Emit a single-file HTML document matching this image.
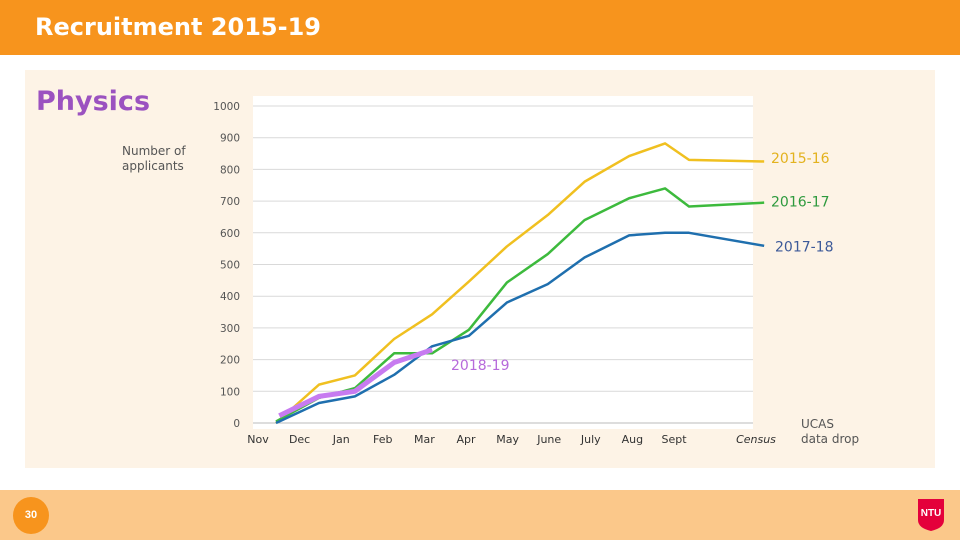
<!DOCTYPE html>
<html><head><meta charset="utf-8"><style>
body{margin:0;width:960px;height:540px;overflow:hidden;background:#fff;font-family:"Liberation Sans","DejaVu Sans",sans-serif;position:relative}
.abs{position:absolute}
</style></head><body>
<div class="abs" style="left:0;top:0;width:960px;height:55px;background:#F7941D"></div>
<div class="abs" style="left:35px;top:13px;color:#fff;font-weight:bold;font-size:24px;font-family:'DejaVu Sans',sans-serif">Recruitment 2015-19</div>
<div class="abs" style="left:25px;top:70px;width:910px;height:398px;background:#FDF3E6"></div>
<div class="abs" style="left:0;top:490px;width:960px;height:50px;background:#FBC88A"></div>
<div class="abs" style="left:13px;top:497px;width:36px;height:37px;border-radius:50%;background:#F7941D;color:#fff;font-size:11px;text-align:center;line-height:37px;font-weight:bold">30</div>
<svg class="abs" style="left:917px;top:496px" width="28" height="36" viewBox="0 0 28 36"><path d="M1 3 L27 3 L27 24 Q27 32 14 35 Q1 32 1 24 Z" fill="#E4003B"/><text x="14" y="20" text-anchor="middle" fill="#fff" font-size="10" font-weight="bold" font-family="Liberation Sans">NTU</text></svg>
<svg class="abs" id="chart" style="left:0;top:0" width="960" height="540"></svg>
<script>
const monthLabels=["Nov","Dec","Jan","Feb","Mar","Apr","May","June","July","Aug","Sept"];
const yTicks=[0,100,200,300,400,500,600,700,800,900,1000];
const tMonths=[0,1.04,1.91,2.86,3.78,4.67,5.59,6.58,7.47,8.55,9.42,10,11.82];
const s1516=[0,121,150,265,343,446,557,656,761,842,882,830,825];
const s1617=[5,79,110,220,220,294,443,533,640,709,740,683,695];
const s1718=[0,63,84,152,242,275,380,438,522,592,600,600,559];
const tMonths1819=[0.08,1.04,1.91,2.86,3.78];
const s1819=[23,84,100,191,231];
const NS="http://www.w3.org/2000/svg";
const svg=document.getElementById('chart');
const X0=253,X1=753,Y0=423,Y1=106;
const x=t=>276+t*41.3;
const y=v=>Y0-(v/1000)*(Y0-Y1);
function mk(tag,attrs,parent){const e=document.createElementNS(NS,tag);for(const k in attrs)e.setAttribute(k,attrs[k]);(parent||svg).appendChild(e);return e;}
function txt(s,a){const e=mk('text',a);e.textContent=s;return e;}
const bg=mk('rect',{x:X0,y:96,width:X1-X0,height:Y0-96+6,fill:'#fff'});


yTicks.forEach(v=>{
 const g=mk('line',{x1:X0,x2:X1,y1:y(v),y2:y(v),stroke:v===0?'#bbb':'#d9d9d9','stroke-width':1});
 
 
 const t=txt(String(v),{x:240,y:y(v)+4,'text-anchor':'end','font-size':10.5,fill:'#555','font-family':'DejaVu Sans'});
 
 
});
monthLabels.forEach((m,i)=>{
 const t=txt(m,{x:258+i*41.6,y:443,'text-anchor':'middle','font-size':11,fill:'#333','font-family':'DejaVu Sans'});
 
 
});
const cen=txt('Census',{x:756,y:443,'text-anchor':'middle','font-size':11,fill:'#333','font-style':'italic','font-family':'DejaVu Sans'});


const u1=txt('UCAS',{x:801,y:428,'font-size':12,fill:'#555','font-family':'DejaVu Sans'});


const u2=txt('data drop',{x:801,y:443,'font-size':12,fill:'#555','font-family':'DejaVu Sans'});


function series(xs,vals,color,w,name){
 const p=mk('polyline',{points:xs.map((t,i)=>x(t)+','+y(vals[i])).join(' '),fill:'none',stroke:color,'stroke-width':w,'stroke-linejoin':'round'});
 
 
}
series(tMonths,s1516,'#F0C020',2.5,'line-2015-16');
series(tMonths,s1617,'#3DBA3D',2.5,'line-2016-17');
series(tMonths,s1718,'#1F6FAE',2.5,'line-2017-18');
series(tMonths1819,s1819,'#C77BF0',5,'line-2018-19');
function lab(s,xx,vy,color,name){const t=txt(s,{x:xx,y:y(vy)+5,'font-size':14,fill:color,'font-family':'DejaVu Sans'});}
lab('2015-16',771,s1516[s1516.length-1]+11,'#E3B21E','label-2015-16');
lab('2016-17',771,s1617[s1617.length-1]+3,'#2E9A3E','label-2016-17');
lab('2017-18',775,s1718[s1718.length-1]-2,'#3D5A99','label-2017-18');
lab('2018-19',451,s1819[s1819.length-1]-48,'#B76ADB','label-2018-19');
</script>
<div class="abs" style="left:36px;top:86px;color:#9B52C0;font-weight:bold;font-size:27px;font-family:'DejaVu Sans',sans-serif">Physics</div>
<div class="abs" style="left:122px;top:144px;color:#555;font-size:12px;line-height:15px;font-family:'DejaVu Sans',sans-serif">Number of<br>applicants</div>
</body></html>
